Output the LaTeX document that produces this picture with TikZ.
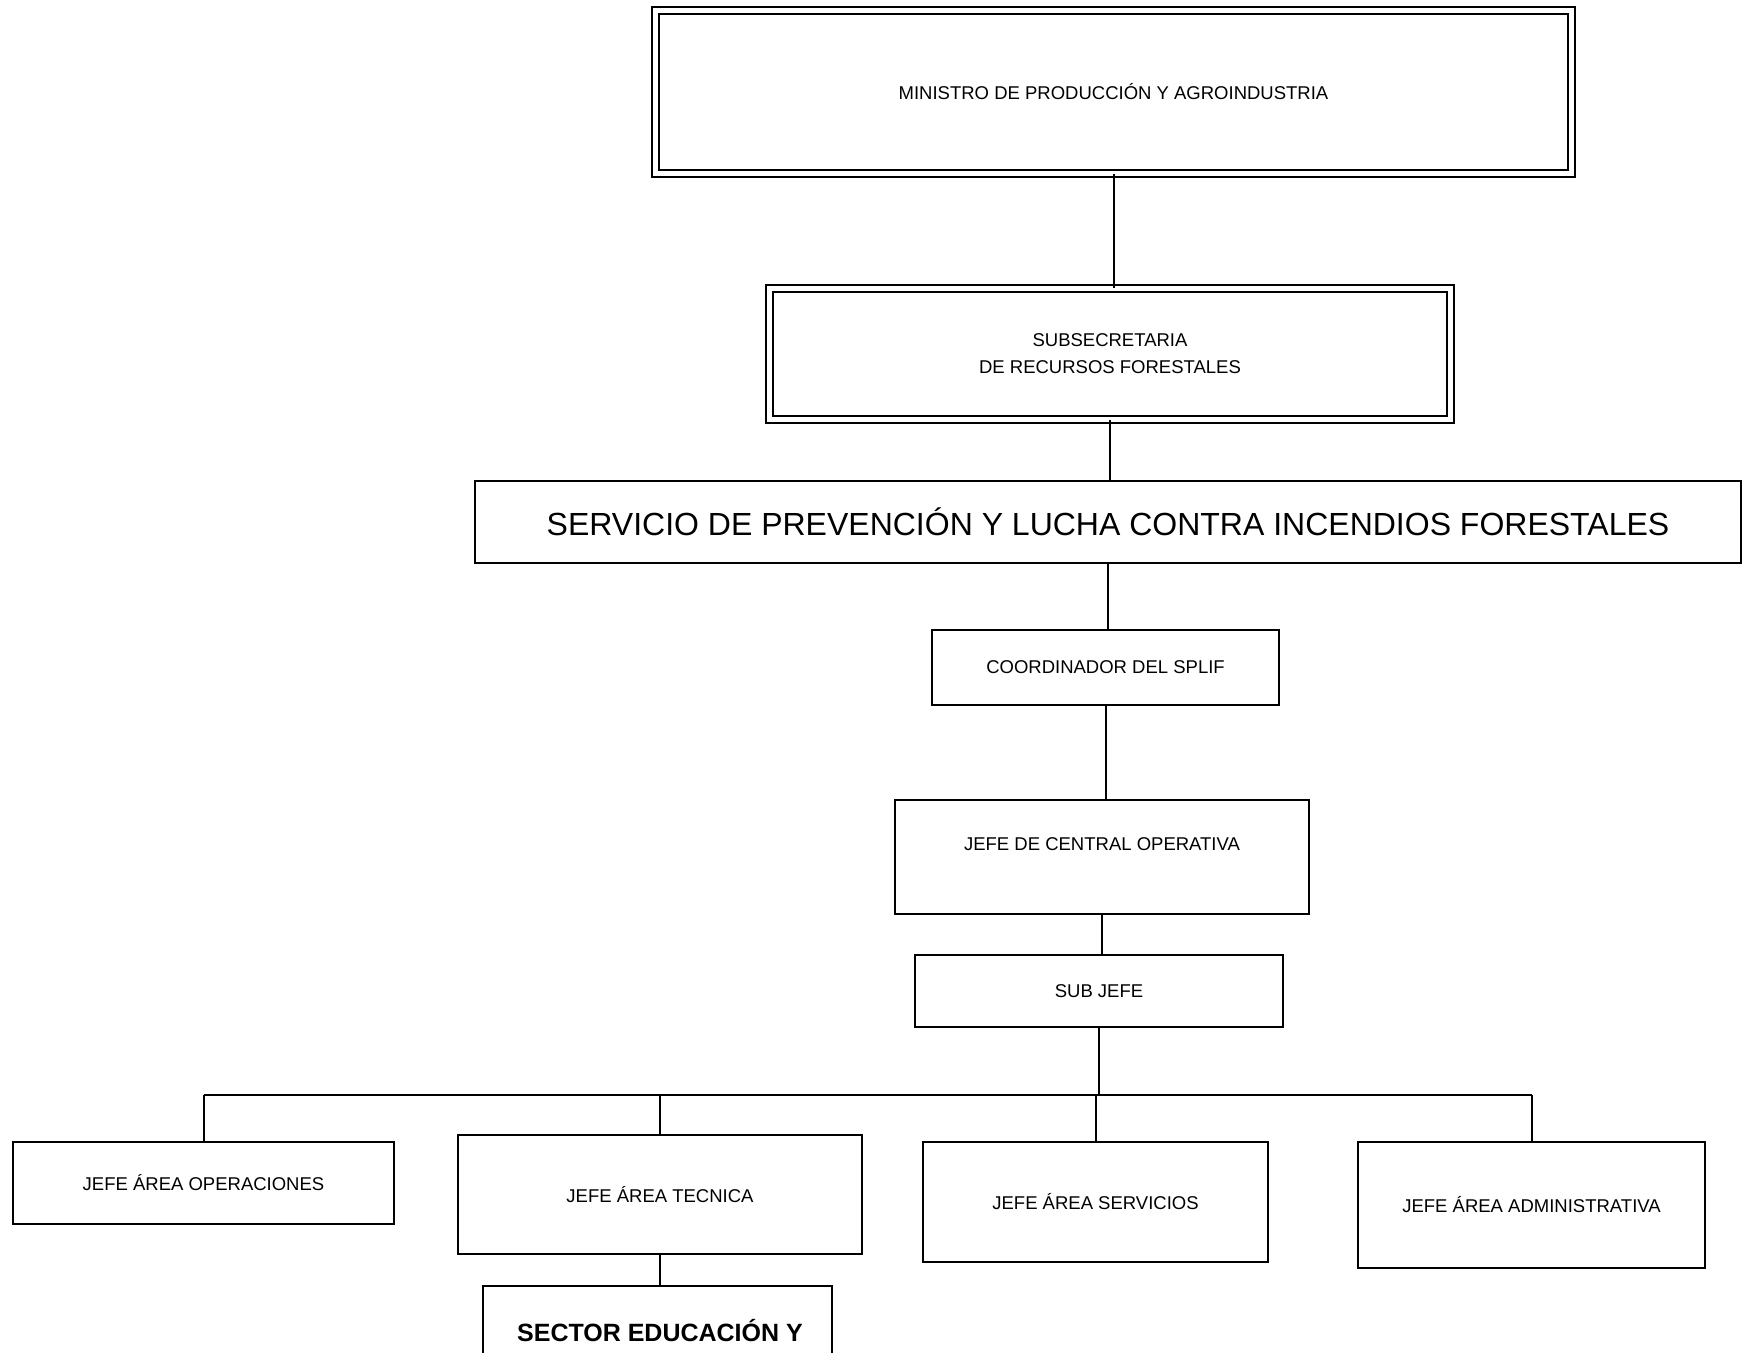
\documentclass[tikz,border=0pt]{standalone}
\usepackage{fontspec}
\setmainfont{Liberation Sans}
\begin{document}
\begin{tikzpicture}[x=1pt,y=-1pt,
  box/.style={draw=black, line width=2.2pt, rectangle, inner sep=0pt, align=center,
              font=\fontsize{18.5}{27}\selectfont},
  dbox/.style={box, double=white, double distance=5pt, line width=1.8pt},
  lbl/.style={inner sep=0pt, align=center, font=\fontsize{18.5}{27}\selectfont},
  conn/.style={draw=black, line width=2pt}]
\useasboundingbox (0,0) rectangle (1748,1352);
\fill[white] (0,0) rectangle (1748,1352);
\clip (0,0) rectangle (1748,1352);

% boxes
\node[dbox, minimum width=916, minimum height=163] (min) at (1113.5,92)
  {MINISTRO DE PRODUCCIÓN Y AGROINDUSTRIA};
\node[dbox, minimum width=681, minimum height=131] (sub) at (1110,354)
  {SUBSECRETARIA\\DE RECURSOS FORESTALES};
\node[box, minimum width=1266, minimum height=82, font=\fontsize{32}{38}\selectfont] (serv) at (1108,522)
  {SERVICIO DE PREVENCIÓN Y LUCHA CONTRA INCENDIOS FORESTALES};
\node[box, minimum width=347, minimum height=75] (coord) at (1105.5,667.5)
  {COORDINADOR DEL SPLIF};
\node[box, minimum width=414, minimum height=114] (jc) at (1102,857) {};
\node[lbl] (jct) at (1102,844) {JEFE DE CENTRAL OPERATIVA};
\node[box, minimum width=368, minimum height=72] (sj) at (1099,991) {SUB JEFE};

\node[box, minimum width=381, minimum height=82] (a1) at (203.5,1183) {JEFE ÁREA OPERACIONES};
\node[box, minimum width=404, minimum height=119] (a2) at (660,1194.5) {JEFE ÁREA TECNICA};
\node[box, minimum width=345, minimum height=120] (a3) at (1095.5,1202) {JEFE ÁREA SERVICIOS};
\node[box, minimum width=347, minimum height=126] (a4) at (1531.5,1205) {JEFE ÁREA ADMINISTRATIVA};

\node[box, minimum width=349, minimum height=150, anchor=north] (sec) at (657.5,1285) {};
\node[lbl, font=\bfseries\fontsize{25}{30}\selectfont] (sect) at (660,1331) {SECTOR EDUCACIÓN Y};

% connectors
\draw[conn] (min.south) -- (min.south |- sub.north);
\draw[conn] (sub.south) -- (sub.south |- serv.north);
\draw[conn] (serv.south) -- (serv.south |- coord.north);
\draw[conn] (coord.south) -- (coord.south |- jc.north);
\draw[conn] (jc.south) -- (jc.south |- sj.north);

\coordinate (busL) at (203.5,1095);
\coordinate (busR) at (1531.5,1095);
\draw[conn] (busL) -- (busR);
\draw[conn] (sj.south) -- (sj.south |- busL);
\draw[conn] (a1.north) -- (a1.north |- busL);
\draw[conn] (a2.north) -- (a2.north |- busL);
\draw[conn] (a3.north) -- (a3.north |- busL);
\draw[conn] (a4.north) -- (a4.north |- busL);
\draw[conn] (a2.south) -- (a2.south |- sec.north);
\end{tikzpicture}
\end{document}
